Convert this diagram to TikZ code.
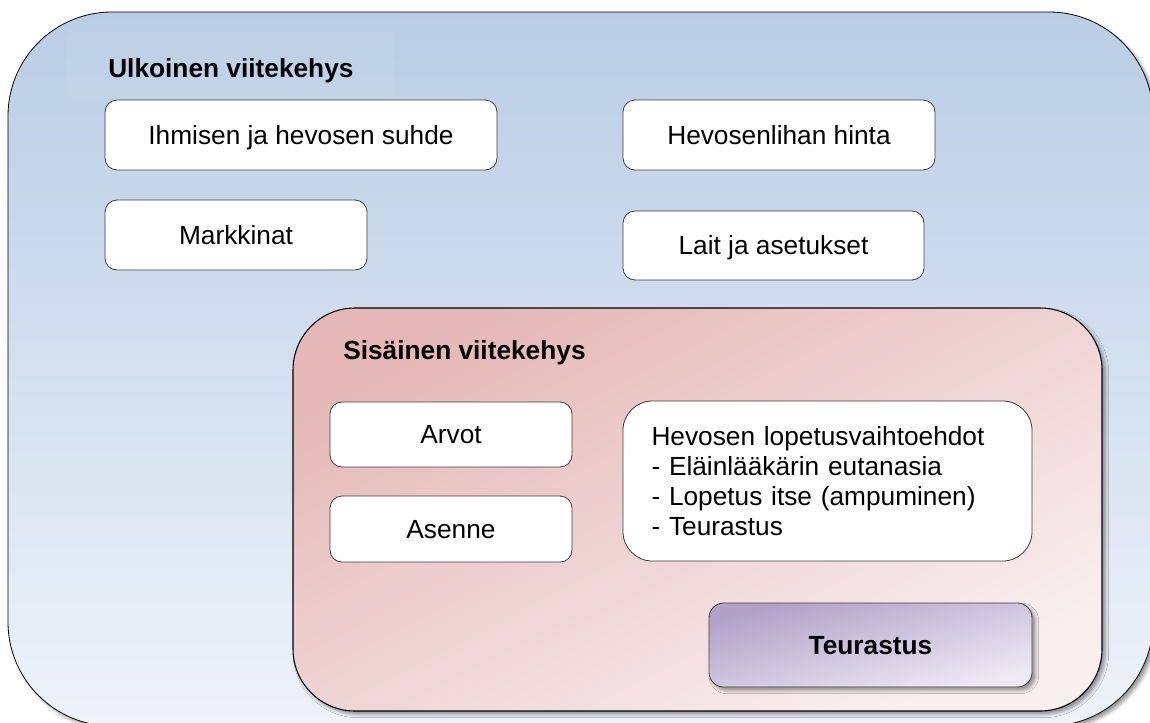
\documentclass[tikz,border=0pt]{standalone}
\usepackage{fontspec}
\setmainfont{Liberation Sans}
\usepackage{tikz}
\usetikzlibrary{shadows.blur}

\definecolor{ulkosininen}{RGB}{185,205,229}
\definecolor{ulkovaalea}{RGB}{238,243,250}
\definecolor{sisapunainen}{RGB}{229,184,183}
\definecolor{sisavaalea}{RGB}{249,239,239}
\definecolor{violetti}{RGB}{178,160,199}
\definecolor{violettivaalea}{RGB}{238,234,245}
\definecolor{reuna}{RGB}{60,60,60}

\begin{document}
\begin{tikzpicture}[
    x=0.75pt, y=-0.75pt,
    pohja/.style={
        draw=reuna,
        line width=0.6pt,
        fill=white,
        rounded corners=9pt,
        inner sep=0pt,
        font=\fontsize{19.7}{22.5}\selectfont
    },
    laatikko/.style={
        pohja,
        text height=14pt,
        text depth=0pt
    },
    otsikko/.style={
        inner sep=0pt,
        anchor=base west,
        font=\bfseries\fontsize{19.7}{22.5}\selectfont
    },
    varjo/.style={
        blur shadow={shadow xshift=2.5pt, shadow yshift=-2.5pt,
            shadow blur radius=2.5pt, shadow opacity=40}
    }
]

\useasboundingbox (0,0) rectangle (1150,722);

% Ulkoinen viitekehys

\draw[
    line width=0.6pt,
    rounded corners=78pt,
    top color=ulkosininen,
    bottom color=ulkovaalea,
    varjo
] (8,12) rectangle (1153,726);

\fill[
    white,
    opacity=0.06,
    rounded corners=8pt
] (65,28) rectangle (395,98);

\node[otsikko] (ulkootsikko) at (108,77) {Ulkoinen viitekehys};

\node[laatikko, minimum width=294pt, minimum height=52.5pt]
    (suhde) at (301,135) {Ihmisen ja hevosen suhde};
\node[laatikko, minimum width=196.5pt, minimum height=52.5pt]
    (markkinat) at (236,235) {Markkinat};
\node[laatikko, minimum width=234pt, minimum height=52.5pt]
    (hinta) at (779,135) {Hevosenlihan hinta};
\node[laatikko, minimum width=225.75pt, minimum height=51.75pt]
    (lait) at (773.5,245.5) {Lait ja asetukset};


% Sisainen viitekehys

\draw[
    line width=0.8pt,
    rounded corners=46.5pt,
    left color=sisapunainen,
    right color=sisavaalea,
    shading angle=27,
    varjo
] (293,308) rectangle (1102,711);

\node[otsikko] (sisaotsikko) at (343,359) {Sisäinen viitekehys};

\node[laatikko, minimum width=181.5pt, minimum height=48.75pt]
    (arvot) at (451,434.5) {Arvot};
\node[laatikko, minimum width=181.5pt, minimum height=49.5pt]
    (asenne) at (451,529) {Asenne};

\node[
    pohja,
    rounded corners=22pt,
    minimum width=306.75pt,
    minimum height=120pt,
    text width=264pt,
    align=left
] (vaihtoehdot) at (827.5,481)
    {Hevosen lopetusvaihtoehdot\\- Eläinlääkärin eutanasia\\- Lopetus itse (ampuminen)\\- Teurastus};


% Teurastus

\node[
    laatikko,
    rounded corners=11pt,
    left color=violetti,
    right color=violettivaalea,
    shading angle=15,
    minimum width=242.25pt,
    minimum height=63pt,
    font=\bfseries\fontsize{19.7}{22.5}\selectfont,
    varjo
] (teurastus) at (870.5,645) {Teurastus};

\end{tikzpicture}
\end{document}
